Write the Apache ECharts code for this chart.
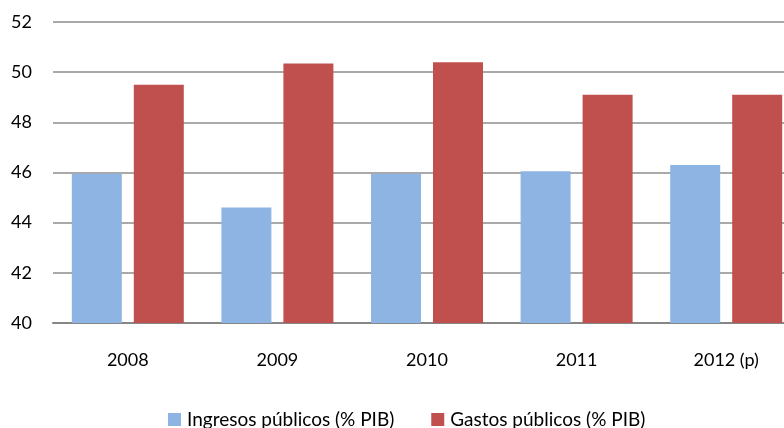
<!DOCTYPE html>
<html>
<head>
<meta charset="utf-8">
<script src="https://cdn.jsdelivr.net/npm/echarts@6/dist/echarts.min.js"></script>
<style>
  html, body { margin: 0; padding: 0; background: #fff; }
  #chart { width: 784px; height: 428px; }
</style>
</head>
<body>
<div id="chart"></div>
<script>
var years = ['2008', '2009', '2010', '2011', '2012 (p)']
var ingresos = [45.95, 44.6, 45.95, 46.05, 46.3]
var gastos = [49.5, 50.35, 50.4, 49.1, 49.1]

var font = 'Lato, "Open Sans", sans-serif'
var myChart = echarts.init(document.getElementById('chart'))

myChart.setOption({
    animation: false,
    grid: { left: 53, top: 22, width: 748, height: 301, outerBoundsMode: 'none', containLabel: false },
    legend: {
        top: 410,
        left: 168,
        padding: 0,
        itemWidth: 13,
        itemHeight: 13,
        itemGap: 37,
        icon: 'rect',
        textStyle: { fontFamily: font, fontSize: 19, color: '#000', padding: [0, 0, 0, 1] },
        data: ['Ingresos públicos (% PIB)', 'Gastos públicos (% PIB)']
    },
    xAxis: {
        type: 'category',
        data: years,
        axisTick: { show: false },
        axisLine: { lineStyle: { color: '#868686', width: 2 } },
        axisLabel: { fontFamily: font, fontSize: 18, color: '#000', margin: 28 }
    },
    yAxis: {
        type: 'value',
        min: 40,
        max: 52,
        interval: 2,
        axisLine: { show: false },
        axisTick: { show: false },
        axisLabel: { fontFamily: font, fontSize: 18, color: '#000', margin: 21 },
        splitLine: { lineStyle: { color: '#8c8c8c', width: 1.5 } }
    },
    series: [
        {
            name: 'Ingresos públicos (% PIB)',
            type: 'bar',
            data: ingresos,
            barWidth: 50,
            barGap: '24%',
            itemStyle: { color: '#8EB4E3' }
        },
        {
            name: 'Gastos públicos (% PIB)',
            type: 'bar',
            data: gastos,
            barWidth: 50,
            itemStyle: { color: '#C0504D' }
        }
    ]
})
</script>
</body>
</html>
